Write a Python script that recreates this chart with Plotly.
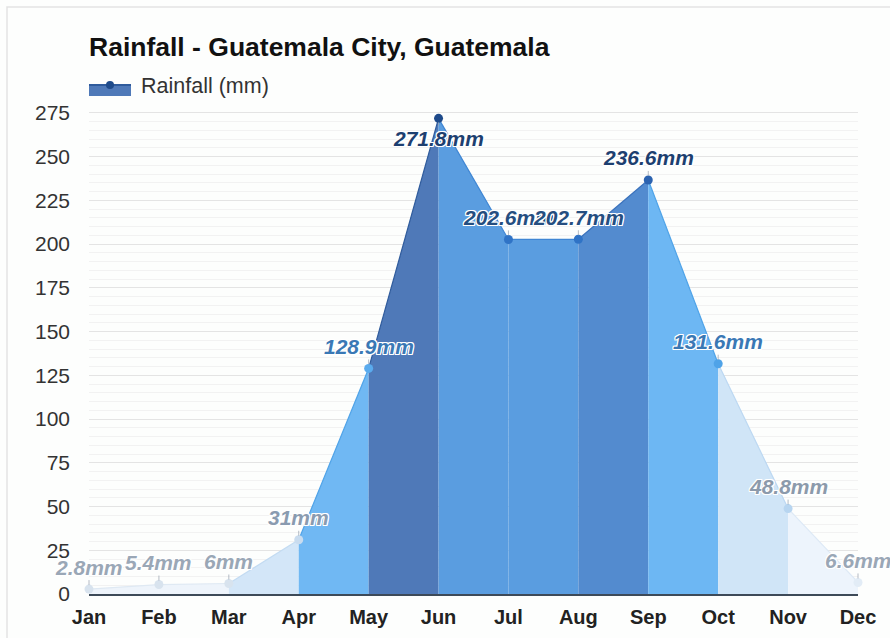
import plotly.graph_objects as go

months = ["Jan", "Feb", "Mar", "Apr", "May", "Jun", "Jul", "Aug", "Sep", "Oct", "Nov", "Dec"]
rain = [2.8, 5.4, 6.0, 31.0, 128.9, 271.8, 202.6, 202.7, 236.6, 131.6, 48.8, 6.6]
labels = ["2.8mm", "5.4mm", "6mm", "31mm", "128.9mm", "271.8mm", "202.6mm", "202.7mm",
          "236.6mm", "131.6mm", "48.8mm", "6.6mm"]
y_ticks = [0, 25, 50, 75, 100, 125, 150, 175, 200, 225, 250, 275]

seg_fill = ["#eef4fb", "#eef4fb", "#d3e6f8", "#70b8f3", "#4f79b8", "#5a9de0",
            "#5a9de0", "#538bcf", "#6db7f3", "#d0e5f7", "#edf4fc"]
seg_line = ["#dfe9f3", "#dfe9f3", "#c3dbf2", "#4fa3e8", "#2f5b9c", "#3f86d4",
            "#3f86d4", "#3a72bd", "#4fa3e8", "#bcd8f2", "#dde9f6"]
pt_color = ["#d8e3ee", "#d8e3ee", "#d8e3ee", "#c9dcef", "#5aabee", "#1e4a8a",
            "#2f73c6", "#2f73c6", "#2c63b0", "#4fa3e8", "#b7d5f0", "#e2ecf6"]
lab_color = ["#9aa7b6", "#9aa7b6", "#9aa7b6", "#8a9bb0", "#3a78b5", "#1d3f70",
             "#254e80", "#254e80", "#1d3f70", "#3a78b5", "#8c9aab", "#9aa7b6"]
lab_dy = [-22, -22, -22, -22, -22, 20, -22, -22, -22, -22, -22, -22]

W, H = 890, 638
L, R, T, B = 89, 32, 104, 44
FONT = "Liberation Sans, Arial"

fig = go.Figure()
xs = list(range(len(months)))
for i in range(len(months) - 1):
    fig.add_trace(go.Scatter(
        x=[xs[i], xs[i + 1], xs[i + 1], xs[i], xs[i]],
        y=[rain[i], rain[i + 1], 0, 0, rain[i]],
        mode="none", fill="toself", fillcolor=seg_fill[i],
        hoverinfo="skip", showlegend=False))
    fig.add_trace(go.Scatter(
        x=[xs[i], xs[i + 1]], y=[rain[i], rain[i + 1]],
        mode="lines", line=dict(color=seg_line[i], width=1.2),
        hoverinfo="skip", showlegend=False))

fig.add_trace(go.Scatter(
    x=xs, y=rain, mode="markers",
    marker=dict(size=9, color=pt_color, line=dict(width=0)),
    showlegend=False, cliponaxis=False))

shadow = ("1px 1px 0 #fff, -1px -1px 0 #fff, 1px -1px 0 #fff, -1px 1px 0 #fff, "
          "0 1px 0 #fff, 0 -1px 0 #fff, 1px 0 0 #fff, -1px 0 0 #fff")
for i in range(len(months)):
    fig.add_annotation(
        x=xs[i], y=rain[i], text="<b><i>" + labels[i] + "</i></b>", showarrow=True,
        arrowhead=0, arrowwidth=1, arrowcolor="rgba(150,160,175,0.7)", ax=0,
        ay=lab_dy[i], standoff=4,
        font=dict(family=FONT, size=21, color=lab_color[i], shadow=shadow))

ph = H - T - B
pw = W - L - R
def px(x):
    return (x - L) / pw
def py(y):
    return (H - B - y) / ph

# title
fig.add_annotation(xref="paper", yref="paper", x=px(87), y=py(47),
                   xanchor="left", yanchor="middle", showarrow=False,
                   text="<b>Rainfall - Guatemala City, Guatemala</b>",
                   font=dict(family=FONT, size=26.5, color="#111"))

# legend
fig.add_shape(type="rect", xref="paper", yref="paper", x0=px(89), x1=px(131),
              y0=py(96), y1=py(85), fillcolor="#4f79b8", line=dict(width=0))
fig.add_shape(type="line", xref="paper", yref="paper", x0=px(89), x1=px(131),
              y0=py(85), y1=py(85), line=dict(color="#2f5b9c", width=2))
fig.add_shape(type="circle", xref="paper", yref="paper", x0=px(106), x1=px(114),
              y0=py(89), y1=py(81), fillcolor="#1e4a8a", line=dict(width=0))
fig.add_annotation(xref="paper", yref="paper", x=px(139), y=py(86),
                   xanchor="left", yanchor="middle", showarrow=False,
                   text="Rainfall (mm)",
                   font=dict(family=FONT, size=21.5, color="#333"))

# card border
fig.add_shape(type="rect", xref="paper", yref="paper", x0=px(7), x1=px(905),
              y0=py(660), y1=py(7), fillcolor="rgba(0,0,0,0)",
              line=dict(color="#e3e3e3", width=1.5), layer="below")

fig.update_layout(
    width=W, height=H, margin=dict(l=L, r=R, t=T, b=B, autoexpand=False),
    paper_bgcolor="#fdfefd", plot_bgcolor="#fdfefd",
    showlegend=False,
    xaxis=dict(range=[0, 11], tickvals=xs, ticktext=["<b>" + m + "</b>" for m in months],
               showgrid=False, zeroline=False, showline=True, linecolor="#3d4a58",
               linewidth=1.5, ticks="", ticklabelstandoff=4, automargin=False,
               tickfont=dict(family=FONT, size=20, color="#222")),
    yaxis=dict(range=[0, 280], tickvals=y_ticks, showgrid=True, gridcolor="#e4e4e4",
               gridwidth=1, zeroline=False, ticks="", ticklabelstandoff=18,
               automargin=False,
               minor=dict(dtick=5, showgrid=True, gridcolor="#f2f2f2", gridwidth=1),
               tickfont=dict(family=FONT, size=21, color="#333")),
)

fig.write_html("out.html")
